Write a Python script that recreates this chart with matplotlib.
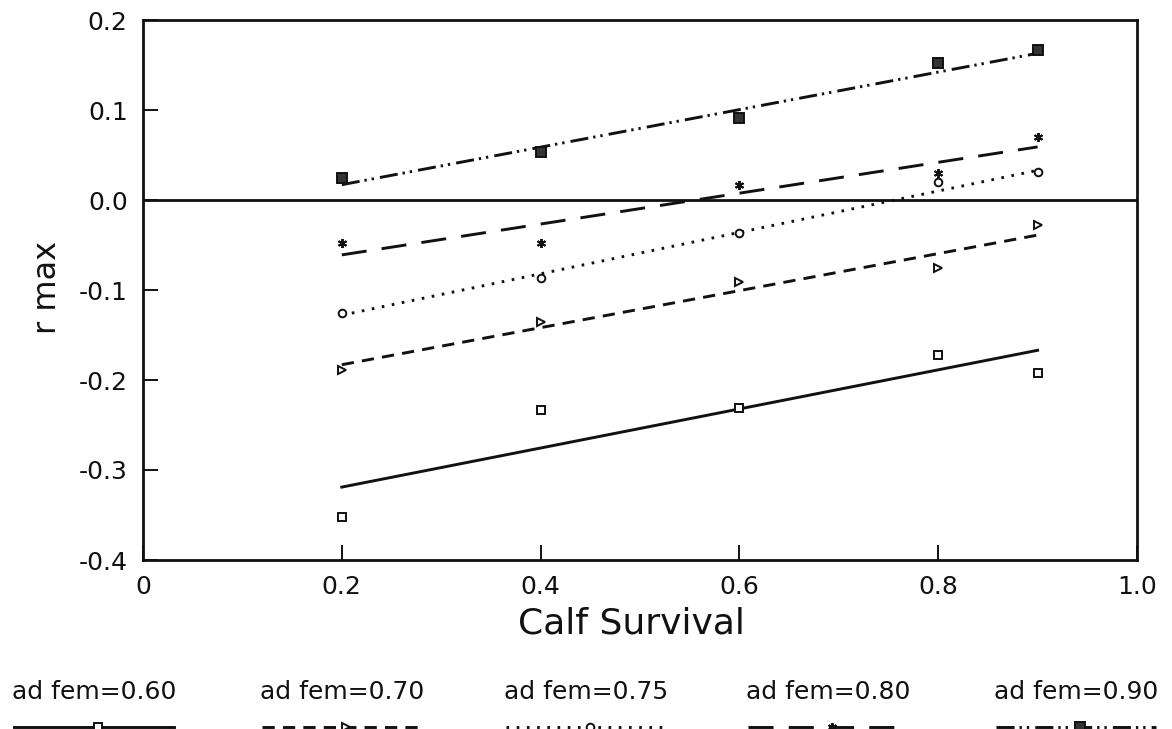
import matplotlib
matplotlib.use('Agg')
import matplotlib.pyplot as plt

plt.rcParams['font.family'] = ['DejaVu Sans']
plt.rcParams['axes.unicode_minus'] = False

# values
calf_survival = [0.2, 0.4, 0.6, 0.8, 0.9]
r_fem60 = [-0.352, -0.233, -0.231, -0.172, -0.192]
r_fem70 = [-0.189, -0.135, -0.091, -0.076, -0.028]
r_fem75 = [-0.126, -0.087, -0.037, 0.020, 0.031]
r_fem80 = [-0.048, -0.048, 0.017, 0.030, 0.070]
r_fem90 = [0.024, 0.053, 0.091, 0.152, 0.167]

# fitted lines (end points at calf survival 0.2 and 0.9)
fit_x = [0.2, 0.9]
fit_fem60 = [-0.319, -0.167]
fit_fem70 = [-0.183, -0.039]
fit_fem75 = [-0.128, 0.033]
fit_fem80 = [-0.061, 0.059]
fit_fem90 = [0.017, 0.163]

labels = ['ad fem=0.60', 'ad fem=0.70', 'ad fem=0.75', 'ad fem=0.80', 'ad fem=0.90']
x_ticks = [0, 0.2, 0.4, 0.6, 0.8, 1.0]
x_ticklabels = ['0', '0.2', '0.4', '0.6', '0.8', '1.0']
y_ticks = [0.2, 0.1, 0.0, -0.1, -0.2, -0.3, -0.4]
y_ticklabels = ['0.2', '0.1', '0.0', '-0.1', '-0.2', '-0.3', '-0.4']

points = [r_fem60, r_fem70, r_fem75, r_fem80, r_fem90]
fits = [fit_fem60, fit_fem70, fit_fem75, fit_fem80, fit_fem90]

lw = 2.1
ink = '#111111'
styles = [
    dict(ls='-', marker='s', mfc='white', ms=5.5),
    dict(ls=(0, (4.2, 2.8)), marker='>', mfc='white', ms=6),
    dict(ls=(0, (0.9, 2.6)), marker='o', mfc='white', ms=5.5),
    dict(ls=(0, (8.6, 5.2)), marker=(6, 2, 0), mfc='white', ms=6.5),
    dict(ls=(0, (6.2, 1.7, 0.8, 1.7, 0.8, 2.1)), marker='s', mfc='#333333', ms=6.5),
]

fig = plt.figure(figsize=(11.72, 7.29), dpi=100)
ax = fig.add_axes([143 / 1172, 1 - 560 / 729, 994 / 1172, 540 / 729])

for pts, fit, st in zip(points, fits, styles):
    ax.plot(fit_x, fit, color=ink, lw=lw, linestyle=st['ls'])
    ax.plot(calf_survival, pts, ls='none', marker=st['marker'],
            mfc=st['mfc'], mec=ink, mew=1.4, ms=st['ms'])

ax.axhline(0, color=ink, lw=2.0)

ax.set_xlim(0, 1.0)
ax.set_ylim(-0.4, 0.2)
ax.set_xticks(x_ticks)
ax.set_xticklabels(x_ticklabels)
ax.set_yticks(y_ticks)
ax.set_yticklabels(y_ticklabels)
ax.tick_params(direction='in', length=10.5, width=1.4, labelsize=18,
               pad=11, color=ink, labelcolor=ink)
for sp in ax.spines.values():
    sp.set_linewidth(2.0)
    sp.set_color(ink)

fig.text(631 / 1172, 1 - 623 / 729, 'Calf Survival', fontsize=26,
         ha='center', va='center', color=ink)
fig.text(48 / 1172, 1 - 287 / 729, 'r max', fontsize=23, rotation=90,
         ha='center', va='center', color=ink)

# legend row below the plot: label above, line sample below
lax = fig.add_axes([0, 0, 1, 1 - 660 / 729])
lax.set_xlim(0, 1172)
lax.set_ylim(69, 0)
lax.axis('off')
centers = [94, 342, 586, 828, 1076]
for cx, lab, st in zip(centers, labels, styles):
    lax.text(cx, 32, lab, fontsize=18, ha='center', va='center', color=ink)
    lax.plot([cx - 80, cx + 80], [67, 67], color=ink, lw=lw, linestyle=st['ls'],
             clip_on=False)
    lax.plot([cx + 4], [67], ls='none', marker=st['marker'], mfc=st['mfc'],
             mec=ink, mew=1.4, ms=st['ms'], clip_on=False)

fig.savefig('out.png', dpi=100)
